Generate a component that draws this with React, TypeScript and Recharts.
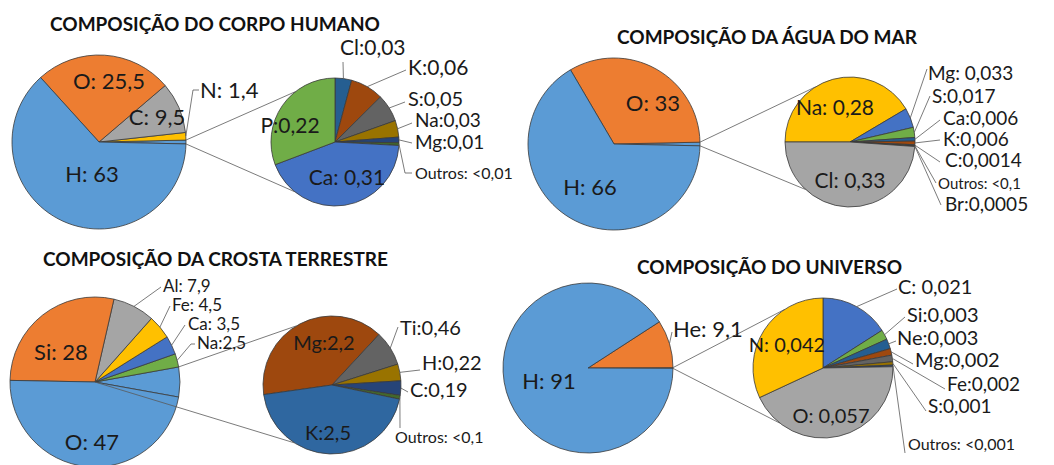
import { PieChart, Pie, Cell } from 'recharts';

// ---- Composição do corpo humano ----
const corpoNomes = ['N', 'C', 'O', 'H'];
const corpoValores = [1.4, 9.5, 25.5, 63];
const corpoRotulos = ['N: 1,4', 'C: 9,5', 'O: 25,5', 'H: 63'];
const corpoCores = ['#FFC000', '#A5A5A5', '#ED7D31', '#5B9BD5'];
const corpoOutrosNomes = ['Cl', 'K', 'S', 'Na', 'Mg', 'Outros', 'Ca', 'P'];
const corpoOutrosValores = [0.03, 0.06, 0.05, 0.03, 0.01, 0.005, 0.31, 0.22];
const corpoOutrosRotulos = ['Cl:0,03', 'K:0,06', 'S:0,05', 'Na:0,03', 'Mg:0,01', 'Outros: <0,01', 'Ca: 0,31', 'P:0,22'];
const corpoOutrosCores = ['#255E91', '#9E480E', '#636363', '#997300', '#264478', '#43682B', '#4472C4', '#70AD47'];

// ---- Composição da água do mar ----
const marNomes = ['O', 'H'];
const marValores = [33, 66];
const marRotulos = ['O: 33', 'H: 66'];
const marCores = ['#ED7D31', '#5B9BD5'];
const marOutrosNomes = ['Na', 'Mg', 'S', 'Ca', 'K', 'C', 'Outros', 'Br', 'Cl'];
const marOutrosValores = [0.28, 0.033, 0.017, 0.006, 0.006, 0.0014, 0.001, 0.0005, 0.33];
const marOutrosRotulos = ['Na: 0,28', 'Mg: 0,033', 'S:0,017', 'Ca:0,006', 'K:0,006', 'C:0,0014', 'Outros: <0,1', 'Br:0,0005', 'Cl: 0,33'];
const marOutrosCores = ['#FFC000', '#4472C4', '#70AD47', '#255E91', '#9E480E', '#636363', '#997300', '#264478', '#A5A5A5'];

// ---- Composição da crosta terrestre ----
const crostaNomes = ['Na', 'Ca', 'Fe', 'Al', 'Si', 'O'];
const crostaValores = [2.5, 3.5, 4.5, 7.9, 28, 47];
const crostaRotulos = ['Na:2,5', 'Ca: 3,5', 'Fe: 4,5', 'Al: 7,9', 'Si: 28', 'O: 47'];
const crostaCores = ['#70AD47', '#4472C4', '#FFC000', '#A5A5A5', '#ED7D31', '#5B9BD5'];
const crostaOutrosNomes = ['Mg', 'Ti', 'H', 'C', 'Outros', 'K'];
const crostaOutrosValores = [2.2, 0.46, 0.22, 0.19, 0.05, 2.5];
const crostaOutrosRotulos = ['Mg:2,2', 'Ti:0,46', 'H:0,22', 'C:0,19', 'Outros: <0,1', 'K:2,5'];
const crostaOutrosCores = ['#9E480E', '#636363', '#997300', '#264478', '#43682B', '#2F67A0'];

// ---- Composição do universo ----
const universoNomes = ['He', 'H'];
const universoValores = [9.1, 91];
const universoRotulos = ['He: 9,1', 'H: 91'];
const universoCores = ['#ED7D31', '#5B9BD5'];
const universoOutrosNomes = ['C', 'Si', 'Ne', 'Mg', 'Fe', 'S', 'Outros', 'O', 'N'];
const universoOutrosValores = [0.021, 0.003, 0.003, 0.002, 0.002, 0.001, 0.0005, 0.057, 0.042];
const universoOutrosRotulos = ['C: 0,021', 'Si:0,003', 'Ne:0,003', 'Mg:0,002', 'Fe:0,002', 'S:0,001', 'Outros: <0,001', 'O: 0,057', 'N: 0,042'];
const universoOutrosCores = ['#4472C4', '#70AD47', '#255E91', '#9E480E', '#636363', '#997300', '#264478', '#A5A5A5', '#FFC000'];

const titulos = [
  'COMPOSIÇÃO DO CORPO HUMANO',
  'COMPOSIÇÃO DA ÁGUA DO MAR',
  'COMPOSIÇÃO DA CROSTA TERRESTRE',
  'COMPOSIÇÃO DO UNIVERSO',
];

const FONT = 'Lato, "Open Sans", sans-serif';
const RAD = Math.PI / 180;
const OUTROS_COR = '#5B9BD5';

type Spec = { dx: number; dy: number; anchor?: 'start' | 'middle'; size?: number; leader?: number[][] };
type Link = { sx: number; sy: number; sr: number; up: number; down: number; fromCenter?: boolean };

const polar = (cx: number, cy: number, r: number, deg: number) => [cx + r * Math.cos(deg * RAD), cy - r * Math.sin(deg * RAD)];
const soma = (v: number[]) => v.reduce((a, b) => a + b, 0);

// label positions, relative to the centre of each pie
const corpoPos: Record<string, Spec> = {
  H: { dx: -7, dy: 40 },
  O: { dx: 10, dy: -53 },
  C: { dx: 58, dy: -17 },
  N: { dx: 101, dy: -44, anchor: 'start', leader: [[94, -52], [100, -52]] },
};
const corpoOutrosPos: Record<string, Spec> = {
  P: { dx: -45, dy: -9 },
  Ca: { dx: 12, dy: 43 },
  Cl: { dx: 5, dy: -87, anchor: 'start', leader: [[8, -80]] },
  K: { dx: 73, dy: -67, anchor: 'start', leader: [[71, -72]] },
  S: { dx: 73, dy: -36, anchor: 'start', size: 20, leader: [[70, -40]] },
  Na: { dx: 80, dy: -15, anchor: 'start', size: 19, leader: [[77, -19]] },
  Mg: { dx: 80, dy: 7, anchor: 'start', size: 19, leader: [[77, 1]] },
  Outros: { dx: 80, dy: 37, anchor: 'start', size: 16, leader: [[70, 31], [77, 31]] },
};
const marPos: Record<string, Spec> = {
  O: { dx: 39, dy: -33 },
  H: { dx: -24, dy: 51 },
};
const marOutrosPos: Record<string, Spec> = {
  Na: { dx: -15, dy: -27, size: 21 },
  Cl: { dx: 0, dy: 46, size: 21 },
  Mg: { dx: 78, dy: -62, anchor: 'start', leader: [[77, -73]] },
  S: { dx: 82, dy: -39, anchor: 'start', leader: [[80, -46]] },
  Ca: { dx: 93, dy: -17, anchor: 'start', leader: [[90, -22]] },
  K: { dx: 93, dy: 4, anchor: 'start', leader: [[90, -2]] },
  C: { dx: 95, dy: 25, anchor: 'start', leader: [[90, 20]] },
  Outros: { dx: 88, dy: 47, anchor: 'start', size: 15, leader: [[86, 41]] },
  Br: { dx: 95, dy: 69, anchor: 'start', leader: [[91, 63]] },
};
const crostaPos: Record<string, Spec> = {
  Si: { dx: -34, dy: -22 },
  O: { dx: -3, dy: 68 },
  Al: { dx: 68, dy: -90, anchor: 'start', size: 17, leader: [[66, -95]] },
  Fe: { dx: 77, dy: -71, anchor: 'start', size: 17, leader: [[75, -76]] },
  Ca: { dx: 93, dy: -52, anchor: 'start', size: 17, leader: [[90, -57]] },
  Na: { dx: 102, dy: -33, anchor: 'start', size: 17, leader: [[96, -38], [100, -38]] },
};
const crostaOutrosPos: Record<string, Spec> = {
  Mg: { dx: -8, dy: -35 },
  K: { dx: -4, dy: 55 },
  Ti: { dx: 68, dy: -50, anchor: 'start', leader: [[66, -58]] },
  H: { dx: 90, dy: -15, anchor: 'start', leader: [[88, -15]] },
  C: { dx: 78, dy: 12, anchor: 'start', leader: [[76, 7]] },
  Outros: { dx: 63, dy: 58, anchor: 'start', size: 16, leader: [[68, 43]] },
};
const universoPos: Record<string, Spec> = {
  He: { dx: 85, dy: -31, anchor: 'start', leader: [[84, -36]] },
  H: { dx: -39, dy: 21 },
};
const universoOutrosPos: Record<string, Spec> = {
  N: { dx: -36, dy: -16 },
  O: { dx: 8, dy: 55 },
  C: { dx: 75, dy: -74, anchor: 'start', leader: [[74, -79]] },
  Si: { dx: 84, dy: -46, anchor: 'start', leader: [[82, -51]] },
  Ne: { dx: 74, dy: -23, anchor: 'start', leader: [[73, -27]] },
  Mg: { dx: 92, dy: -1, anchor: 'start', leader: [[90, -4]] },
  Fe: { dx: 124, dy: 23, anchor: 'start', size: 19, leader: [[122, 21]] },
  S: { dx: 105, dy: 45, anchor: 'start', size: 19, leader: [[103, 43]] },
  Outros: { dx: 85, dy: 82, anchor: 'start', size: 16, leader: [[82, 85]] },
};

function rotulo(names: string[], texts: string[], pos: Record<string, Spec>, base: number, link?: Link) {
  return (props: any) => {
    const { cx, cy, midAngle, outerRadius, index, startAngle, endAngle } = props;
    const name = names[index];
    const parts: any[] = [];
    if (link && name === 'Outros') {
      const hi = Math.max(startAngle, endAngle);
      const lo = Math.min(startAngle, endAngle);
      const a = polar(cx, cy, outerRadius, hi);
      const b = link.fromCenter ? [cx, cy] : polar(cx, cy, outerRadius, lo);
      const ta = polar(link.sx, link.sy, link.sr, link.up);
      const tb = polar(link.sx, link.sy, link.sr, link.down);
      parts.push(<line key="u" x1={a[0]} y1={a[1]} x2={ta[0]} y2={ta[1]} stroke="#595959" strokeWidth={0.8} />);
      parts.push(<line key="d" x1={b[0]} y1={b[1]} x2={tb[0]} y2={tb[1]} stroke="#595959" strokeWidth={0.8} />);
    }
    const spec = pos[name];
    if (spec) {
      if (spec.leader) {
        const e = polar(cx, cy, outerRadius, midAngle);
        const pts = [e, ...spec.leader.map(([x, y]) => [cx + x, cy + y])];
        parts.push(
          <polyline key="l" points={pts.map((p) => p.join(',')).join(' ')} fill="none" stroke="#595959" strokeWidth={0.8} />
        );
      }
      parts.push(
        <text
          key="t"
          x={cx + spec.dx}
          y={cy + spec.dy}
          textAnchor={spec.anchor ?? 'middle'}
          fontFamily={FONT}
          fontSize={spec.size ?? base}
          fill="#1a1a1a"
        >
          {texts[index]}
        </text>
      );
    }
    return <g key={`lbl-${index}`}>{parts}</g>;
  };
}

const paineis = [
  {
    titulo: titulos[0], tx: 50, ty: 31,
    main: { cx: 99, cy: 142, r: 87, nomes: corpoNomes, valores: corpoValores, rotulos: corpoRotulos, cores: corpoCores, pos: corpoPos },
    sec: { cx: 335, cy: 142, r: 64, start: 90, nomes: corpoOutrosNomes, valores: corpoOutrosValores, rotulos: corpoOutrosRotulos, cores: corpoOutrosCores, pos: corpoOutrosPos, size: 21 },
    up: 128, down: 231, fromCenter: false,
  },
  {
    titulo: titulos[1], tx: 617, ty: 44,
    main: { cx: 614, cy: 144, r: 86, nomes: marNomes, valores: marValores, rotulos: marRotulos, cores: marCores, pos: marPos },
    sec: { cx: 850, cy: 142, r: 65, start: 180, nomes: marOutrosNomes, valores: marOutrosValores, rotulos: marOutrosRotulos, cores: marOutrosCores, pos: marOutrosPos, size: 19 },
    up: 122, down: 227, fromCenter: false,
  },
  {
    titulo: titulos[2], tx: 43, ty: 266,
    main: { cx: 95, cy: 382, r: 85, nomes: crostaNomes, valores: crostaValores, rotulos: crostaRotulos, cores: crostaCores, pos: crostaPos },
    sec: { cx: 332, cy: 385, r: 69, start: 188, nomes: crostaOutrosNomes, valores: crostaOutrosValores, rotulos: crostaOutrosRotulos, cores: crostaOutrosCores, pos: crostaOutrosPos, size: 20 },
    up: 121, down: 237, fromCenter: true,
  },
  {
    titulo: titulos[3], tx: 637, ty: 274,
    main: { cx: 588, cy: 368, r: 85, nomes: universoNomes, valores: universoValores, rotulos: universoRotulos, cores: universoCores, pos: universoPos },
    sec: { cx: 823, cy: 368, r: 70, start: 90, nomes: universoOutrosNomes, valores: universoOutrosValores, rotulos: universoOutrosRotulos, cores: universoOutrosCores, pos: universoOutrosPos, size: 20 },
    up: 123, down: 232, fromCenter: false,
  },
];

export default function App() {
  const pies: any[] = [];
  paineis.forEach((p, i) => {
    const outros = soma(p.sec.valores);
    const total = outros + soma(p.main.valores);
    const theta = (outros / total) * 360;
    const mainNomes = ['Outros', ...p.main.nomes];
    const mainData = mainNomes.map((n, k) => ({ name: n, value: k === 0 ? outros : p.main.valores[k - 1] }));
    const mainCores = [OUTROS_COR, ...p.main.cores];
    const mainRot = ['', ...p.main.rotulos];
    const link: Link = { sx: p.sec.cx, sy: p.sec.cy, sr: p.sec.r, up: p.up, down: p.down, fromCenter: p.fromCenter };
    pies.push(
      <Pie
        key={`m${i}`}
        data={mainData}
        dataKey="value"
        nameKey="name"
        cx={p.main.cx}
        cy={p.main.cy}
        outerRadius={p.main.r}
        startAngle={-theta / 2}
        endAngle={360 - theta / 2}
        stroke="#3a3a3a"
        strokeWidth={0.8}
        labelLine={false}
        label={rotulo(mainNomes, mainRot, p.main.pos, 22, link)}
        isAnimationActive={false}
      >
        {mainData.map((d, k) => (
          <Cell key={d.name} fill={mainCores[k]} />
        ))}
      </Pie>
    );
    const secData = p.sec.nomes.map((n, k) => ({ name: n, value: p.sec.valores[k] }));
    pies.push(
      <Pie
        key={`s${i}`}
        data={secData}
        dataKey="value"
        nameKey="name"
        cx={p.sec.cx}
        cy={p.sec.cy}
        outerRadius={p.sec.r}
        startAngle={p.sec.start}
        endAngle={p.sec.start - 360}
        stroke="#3a3a3a"
        strokeWidth={0.8}
        labelLine={false}
        label={rotulo(p.sec.nomes, p.sec.rotulos, p.sec.pos, p.sec.size)}
        isAnimationActive={false}
      >
        {secData.map((d, k) => (
          <Cell key={d.name} fill={p.sec.cores[k]} />
        ))}
      </Pie>
    );
  });

  return (
    <div style={{ position: 'relative', width: 1054, height: 465, background: '#fff', overflow: 'hidden' }}>
      <style>{'body{margin:0}'}</style>
      <PieChart width={1054} height={465} margin={{ top: 0, right: 0, bottom: 0, left: 0 }}>
        {pies}
      </PieChart>
      <svg width={1054} height={465} style={{ position: 'absolute', left: 0, top: 0, pointerEvents: 'none' }}>
        {paineis.map((p) => (
          <text key={p.titulo} x={p.tx} y={p.ty} fontFamily={FONT} fontWeight={700} fontSize={19} fill="#111">
            {p.titulo}
          </text>
        ))}
      </svg>
    </div>
  );
}
